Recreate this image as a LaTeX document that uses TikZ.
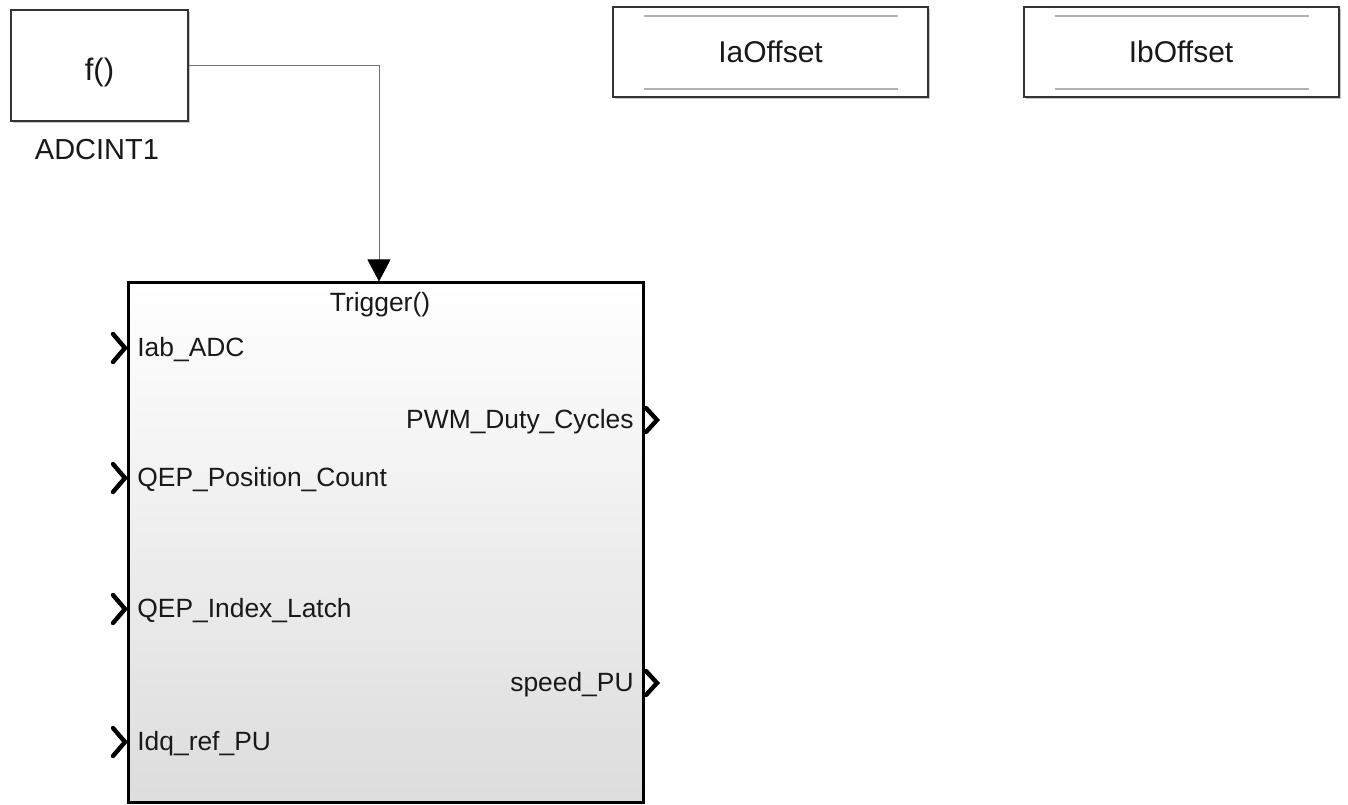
\documentclass[tikz,border=0pt]{standalone}
\usepackage{fontspec}
\setmainfont{Liberation Sans}
\usetikzlibrary{arrows.meta,shadows}

\begin{document}
\begin{tikzpicture}[x=0.5pt,y=0.5pt,
  bloc/.style={draw=black!80,line width=1pt,fill=white,inner sep=0pt,
    drop shadow={shadow xshift=1pt,shadow yshift=-1pt,fill=black!45,opacity=0.5}},
  grostexte/.style={font=\fontsize{14.5}{17}\selectfont,text=black!90},
  petittexte/.style={font=\fontsize{13.2}{15}\selectfont,text=black!90,inner sep=0pt},
  chevron/.style={line width=2.2pt,line cap=round,black},
  filet/.style={draw=black!30,line width=0.8pt}]
\useasboundingbox (0,0) rectangle (1348,804) ;
% Bloc d'interruption
\node[bloc,grostexte,font=\fontsize{15.5}{17}\selectfont,text height=18pt,text depth=3pt,
  minimum width=88.5pt,minimum height=55.5pt] (adc) at (99.5,738.5) {f()} ;
\node[grostexte] (adclabel) at (97,654) {ADCINT1} ;
% Magasins de donn\'ees
\foreach \x/\t/\n in {770.5/IaOffset/iaoff,1181/IbOffset/iboff}
{
  \node[bloc,grostexte,font=\fontsize{15}{17}\selectfont,minimum width=157.5pt,minimum height=45pt] (\n) at (\x,752) {\t} ;
  \draw[filet] ([shift={(32,-10)}]\n.north west) -- ([shift={(-31,-10)}]\n.north east) ;
  \draw[filet] ([shift={(32,9)}]\n.south west) -- ([shift={(-31,9)}]\n.south east) ;
}
% Sous-syst\`eme d\'eclench\'e
\node[draw=black,line width=1.5pt,inner sep=0pt,minimum width=257.5pt,minimum height=259.5pt,
  top color=white,middle color=white!96!black,bottom color=gray!27] (trig) at (385.5,261.5) {} ;
\node[petittexte] (triglabel) at (380,499) {Trigger()} ;
\coordinate (trigport) at ([shift={(-6.5,0)}]trig.north) ;
\draw[black!55,line width=0.5pt,-{Triangle[width=11.5pt,length=11pt,color=black]}] %
  (adc.east) -| (trigport) ;
% Entr\'ees : chevrons et \'etiquettes
\foreach \y/\t/\n in {456/Iab\_ADC/iab,326/QEP\_Position\_Count/qeppos,%
  195/QEP\_Index\_Latch/qepidx,62/Idq\_ref\_PU/idqref}
{
  \draw[chevron] (113,\y+14) -- (125,\y) -- (113,\y-14) ;
  \node[petittexte,anchor=west] (\n) at (137,\y-2) {\t} ;
}
% Sorties
\foreach \y/\t/\n in {384/PWM\_Duty\_Cycles/pwm,121/speed\_PU/speed}
{
  \draw[chevron] (646,\y+12) -- (657,\y) -- (646,\y-12) ;
  \node[petittexte,anchor=east] (\n) at (634,\y-2) {\t} ;
}
\end{tikzpicture}
\end{document}
